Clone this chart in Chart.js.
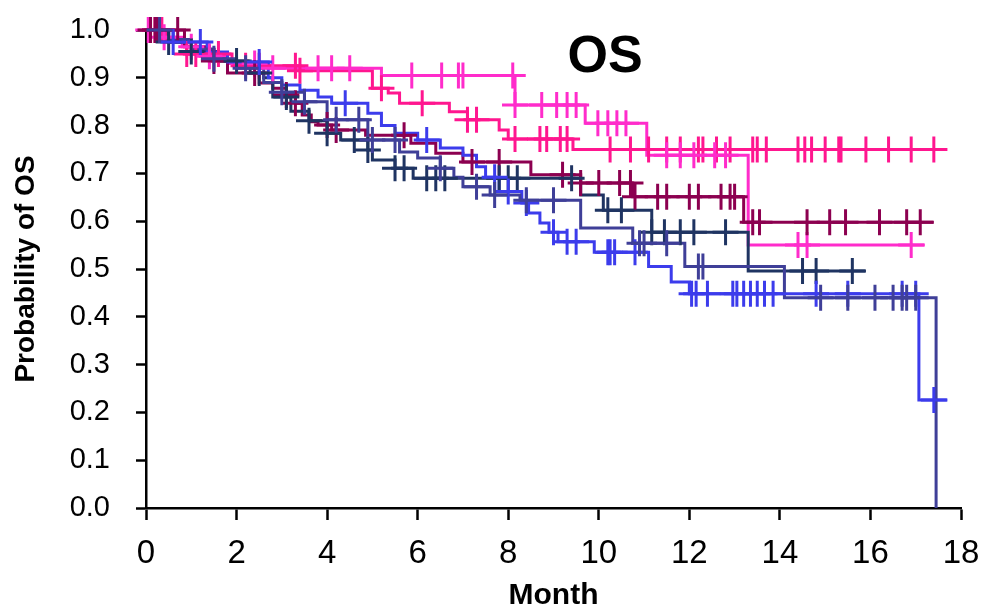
<!DOCTYPE html>
<html>
<head>
<meta charset="utf-8">
<script src="https://cdn.jsdelivr.net/npm/chart.js@4.4.1/dist/chart.umd.min.js"></script>
<style>
html,body{margin:0;padding:0;background:#fff;}
#wrap{width:981px;height:611px;}
</style>
</head>
<body>
<div id="wrap"><canvas id="c" width="981" height="611"></canvas></div>
<script>
// ---- Data (Kaplan-Meier steps: time in months, survival probability) ----
const xTicks = [0, 2, 4, 6, 8, 10, 12, 14, 16, 18];
const yTicks = [0.0, 0.1, 0.2, 0.3, 0.4, 0.5, 0.6, 0.7, 0.8, 0.9, 1.0];

const seriesA_times = [0, 0.35, 0.8, 1.2, 1.8, 2.7, 5.2, 8.15, 9.7, 11.06, 13.3];
const seriesA_surv  = [1.0, 0.985, 0.965, 0.945, 0.93, 0.92, 0.905, 0.843, 0.805, 0.738, 0.55];
const seriesA_end = 17.2;
const seriesA_censor = [0.05, 0.3, 0.4, 1.0, 1.4, 2.4, 2.8, 3.8, 4.1, 4.5, 5.87, 6.53, 6.9, 7.0, 8.1, 8.15, 8.74, 9.07, 9.3, 9.5, 9.98, 10.2, 10.4, 10.6, 11.5, 11.8, 12.1, 12.56, 12.8, 14.4, 14.6, 16.9];

const seriesB_times = [0, 0.45, 0.9, 1.9, 3.4, 5.0, 5.35, 5.6, 6.7, 7.1, 7.8, 8.0, 9.43];
const seriesB_surv  = [1.0, 0.975, 0.95, 0.925, 0.915, 0.878, 0.868, 0.847, 0.829, 0.812, 0.791, 0.772, 0.75];
const seriesB_end = 17.7;
const seriesB_censor = [0.2, 0.35, 0.9, 1.1, 1.6, 2.2, 2.5, 3.3, 3.4, 5.2, 6.1, 7.1, 7.3, 8.15, 8.7, 8.85, 9.15, 9.3, 10.25, 10.7, 11.1, 11.5, 11.8, 12.2, 12.3, 12.6, 12.9, 13.4, 13.5, 13.7, 14.4, 14.55, 14.7, 15.0, 15.3, 15.35, 15.9, 16.4, 16.9, 17.4];

const seriesC_times = [0, 0.85, 1.4, 1.8, 2.5, 2.8, 3.1, 3.3, 3.45, 3.65, 3.8, 4.1, 4.85, 5.85, 6.4, 7.0, 8.5, 9.6, 10.75, 13.2];
const seriesC_surv  = [1.0, 0.965, 0.935, 0.91, 0.889, 0.878, 0.864, 0.847, 0.822, 0.808, 0.801, 0.791, 0.78, 0.763, 0.742, 0.724, 0.697, 0.68, 0.651, 0.598];
const seriesC_end = 17.4;
const seriesC_censor = [0.1, 0.2, 0.25, 0.7, 1.5, 2.4, 3.1, 3.3, 4.0, 4.2, 5.7, 7.2, 7.8, 9.2, 9.6, 10.0, 10.46, 10.7, 10.8, 11.3, 11.5, 12.0, 12.2, 12.7, 12.9, 13.0, 13.4, 13.55, 14.6, 15.1, 15.45, 16.2, 16.8, 17.1];

const seriesD_times = [0, 0.5, 1.0, 1.6, 2.3, 2.6, 2.8, 3.2, 3.6, 4.0, 4.3, 4.9, 5.0, 5.5, 5.9, 9.6, 10.1, 11.17, 13.3];
const seriesD_surv  = [1.0, 0.975, 0.955, 0.935, 0.91, 0.9, 0.86, 0.83, 0.81, 0.784, 0.77, 0.749, 0.728, 0.711, 0.69, 0.655, 0.623, 0.577, 0.496];
const seriesD_end = 15.9;
const seriesD_censor = [0.5, 1.0, 2.0, 2.5, 3.1, 3.6, 4.0, 4.6, 4.9, 5.5, 5.7, 6.2, 6.4, 6.6, 7.8, 8.0, 8.2, 9.4, 10.2, 10.5, 11.17, 11.45, 11.8, 12.1, 12.8, 14.5, 14.8, 15.6];

const seriesE_times = [0, 0.6, 1.35, 1.8, 2.7, 3.0, 3.4, 3.8, 4.1, 4.9, 5.2, 5.5, 6.0, 6.5, 7.0, 7.3, 7.5, 7.8, 8.3, 8.45, 8.7, 8.9, 9.1, 9.9, 11.1, 11.6, 12.0, 17.07];
const seriesE_surv  = [1.0, 0.975, 0.954, 0.933, 0.9, 0.885, 0.874, 0.86, 0.847, 0.826, 0.8, 0.784, 0.77, 0.753, 0.738, 0.714, 0.692, 0.662, 0.638, 0.617, 0.596, 0.577, 0.557, 0.535, 0.505, 0.473, 0.448, 0.226];
const seriesE_end = 17.7;
const seriesE_censor = [0.6, 1.2, 2.5, 4.4, 6.2, 7.7, 8.0, 8.4, 9.0, 9.3, 9.5, 10.2, 10.25, 10.35, 10.8, 12.05, 12.15, 12.4, 12.96, 13.05, 13.2, 13.35, 13.5, 13.66, 13.85, 14.8, 15.5, 16.7, 17.0, 17.4];

const seriesF_times = [0, 0.5, 1.0, 1.5, 2.0, 2.6, 3.0, 3.5, 4.0, 4.9, 5.6, 6.0, 6.5, 6.8, 7.0, 7.6, 8.26, 9.6, 10.75, 11.9, 14.1, 17.45];
const seriesF_surv  = [1.0, 0.98, 0.96, 0.94, 0.92, 0.89, 0.87, 0.85, 0.812, 0.77, 0.745, 0.732, 0.711, 0.692, 0.672, 0.655, 0.644, 0.586, 0.554, 0.505, 0.44, 0.0];
const seriesF_end = 17.45;
const seriesF_censor = [0.3, 1.5, 2.2, 3.0, 3.5, 4.2, 4.7, 5.0, 5.5, 6.5, 7.3, 7.7, 8.4, 9.0, 10.9, 11.0, 11.5, 12.2, 12.3, 14.9, 15.5, 16.1, 16.5, 16.7, 16.8, 17.0];

const colors = {
  A: '#ff2ccb', B: '#ff168f', C: '#8c0050', D: '#1f3462', E: '#3c3cec', F: '#3f3f98'
};

// ---- helpers ----
function stepPoints(times, surv, end) {
  const pts = times.map((t, i) => ({x: t, y: surv[i]}));
  const last = times[times.length - 1];
  if (end > last) pts.push({x: end, y: surv[surv.length - 1]});
  return pts;
}
function survAt(times, surv, t) {
  let v = surv[0];
  for (let i = 0; i < times.length; i++) { if (times[i] <= t) v = surv[i]; }
  return v;
}
function censorPoints(times, surv, cens) {
  return cens.map(t => ({x: t, y: survAt(times, surv, t)}));
}

const series = [
  ['F', seriesF_times, seriesF_surv, seriesF_end, seriesF_censor],
  ['E', seriesE_times, seriesE_surv, seriesE_end, seriesE_censor],
  ['D', seriesD_times, seriesD_surv, seriesD_end, seriesD_censor],
  ['C', seriesC_times, seriesC_surv, seriesC_end, seriesC_censor],
  ['A', seriesA_times, seriesA_surv, seriesA_end, seriesA_censor],
  ['B', seriesB_times, seriesB_surv, seriesB_end, seriesB_censor]
];

const datasets = [];
series.forEach(([k, t, s, e, c]) => {
  datasets.push({
    type: 'line', label: 'Group ' + k, data: stepPoints(t, s, e),
    stepped: 'before', borderColor: colors[k], borderWidth: 3, pointRadius: 0,
    fill: false, clip: false, order: 2
  });
  datasets.push({
    type: 'scatter', label: 'Censored ' + k, data: censorPoints(t, s, c),
    pointStyle: 'cross', pointRadius: 13, pointBorderWidth: 3,
    borderColor: colors[k], backgroundColor: colors[k], showLine: false, clip: false, order: 1
  });
});

const NARROW = "'Liberation Sans Narrow', 'Arial Narrow', 'Liberation Sans', Arial, sans-serif";
const REG = "'Liberation Sans', Arial, sans-serif";

const titlePlugin = {
  id: 'osTitle',
  afterDraw(chart) {
    const ctx = chart.ctx;
    ctx.save();
    ctx.font = 'bold 52px ' + NARROW;
    ctx.fillStyle = '#000';
    ctx.textAlign = 'center';
    ctx.textBaseline = 'middle';
    ctx.fillText('OS', 605, 58);
    ctx.restore();
  }
};

new Chart(document.getElementById('c'), {
  data: { datasets },
  options: {
    responsive: false,
    animation: false,
    layout: { padding: { left: 0, right: 20, top: 30, bottom: 0 } },
    plugins: { legend: { display: false }, tooltip: { enabled: false } },
    scales: {
      x: {
        type: 'linear', min: 0, max: 18,
        afterFit(scale) { scale.height = 103; scale.paddingRight = 0; scale.paddingLeft = 0; },
        afterBuildTicks(scale) { scale.ticks = xTicks.map(v => ({value: v})); },
        border: { display: true, color: '#000', width: 2.5 },
        grid: { drawOnChartArea: false, drawTicks: true, tickLength: 12, tickWidth: 2.5, tickColor: '#000' },
        ticks: { color: '#000', padding: 14, font: { family: NARROW, size: 33 }, maxRotation: 0,
                 callback: v => String(v) },
        title: { display: true, text: 'Month', color: '#000', font: { family: NARROW, size: 30, weight: 'bold', lineHeight: 1.0 }, padding: { top: 0, bottom: 0 } }
      },
      y: {
        type: 'linear', min: 0, max: 1,
        afterFit(scale) { scale.width = 146; scale.paddingTop = 0; scale.paddingBottom = 0; },
        afterBuildTicks(scale) { scale.ticks = yTicks.map(v => ({value: v})); },
        border: { display: true, color: '#000', width: 2.5 },
        grid: { drawOnChartArea: false, drawTicks: true, tickLength: 10, tickWidth: 2.5, tickColor: '#000' },
        ticks: { color: '#000', padding: 26, font: { family: REG, size: 29 },
                 callback: v => Number(v).toFixed(1) },
        title: { display: true, text: 'Probability of OS', color: '#000', font: { family: NARROW, size: 28, weight: 'bold', lineHeight: 1.0 }, padding: { top: 12, bottom: 0 } }
      }
    }
  },
  plugins: [titlePlugin]
});
</script>
</body>
</html>
